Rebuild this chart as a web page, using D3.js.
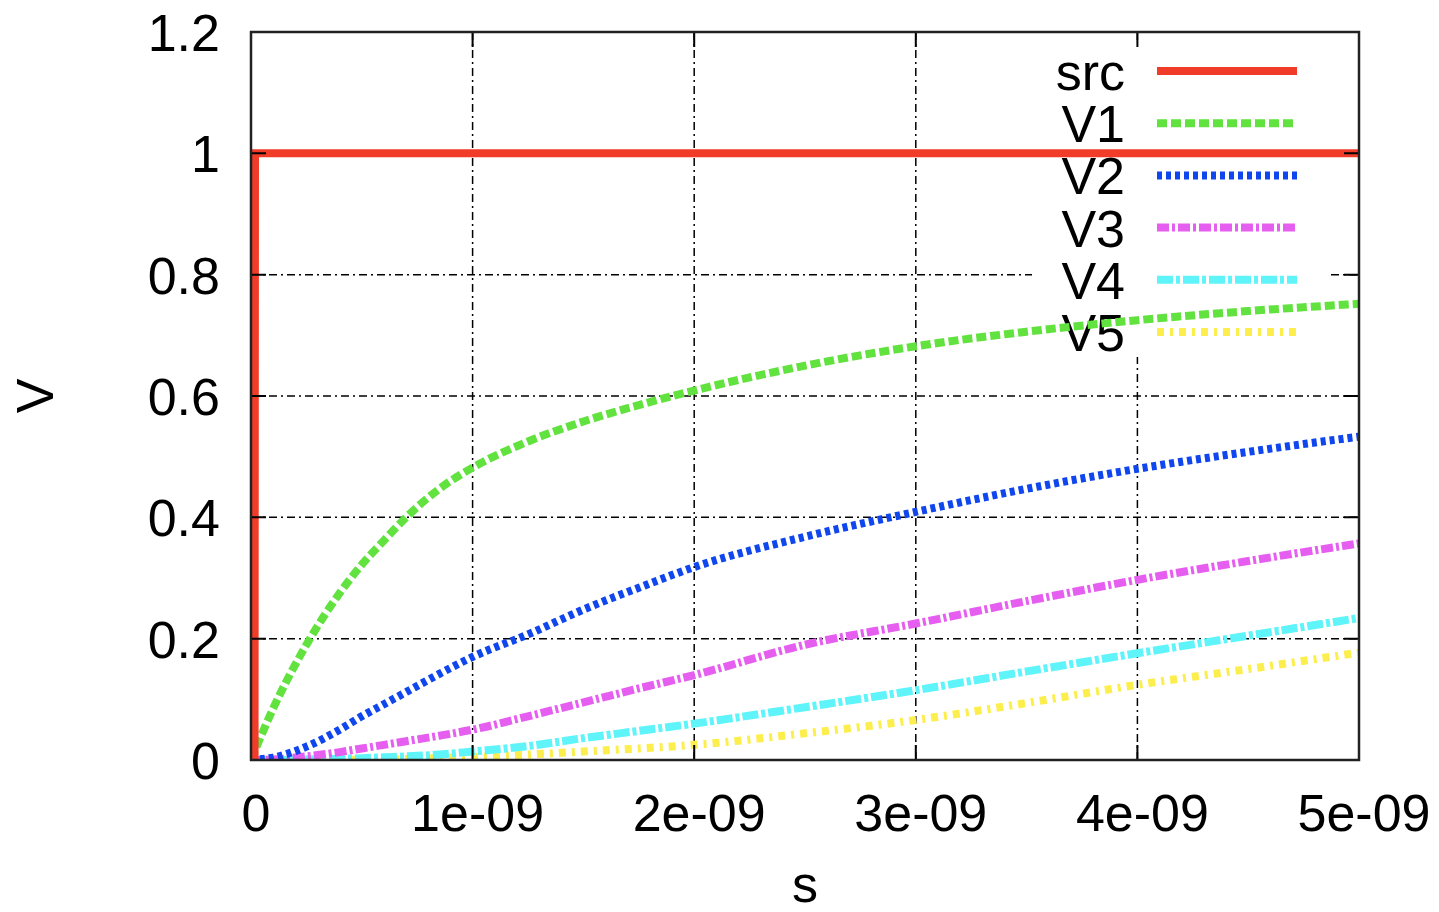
<!DOCTYPE html>
<html>
<head>
<meta charset="utf-8">
<script src="https://cdn.jsdelivr.net/npm/d3@7"></script>
<style>
    html, body { margin: 0; padding: 0; background: #fff; }
    svg text { font-family: "Liberation Sans", Arial, Helvetica, sans-serif; fill: #000; }
</style>
</head>
<body>
<div id="chart"></div>
<script>
// time samples in ns (converted to seconds below)
const timesNs = [0, 0.1, 0.25, 0.4, 0.5, 0.6, 0.7, 0.85, 1, 1.25, 1.5, 1.75, 2, 2.5, 3, 3.5, 4, 4.5, 5];

const srcTimesNs = [0, 0.016, 0.018, 5];
const srcValues = [0, 0, 1, 1];

const v1Values = [0, 0.085, 0.19, 0.275, 0.322, 0.362, 0.400, 0.447, 0.482, 0.525, 0.558, 0.585, 0.609, 0.650, 0.682, 0.706, 0.725, 0.740, 0.752];
const v2Values = [0, 0.004, 0.022, 0.050, 0.072, 0.092, 0.112, 0.142, 0.170, 0.207, 0.248, 0.284, 0.318, 0.368, 0.409, 0.447, 0.480, 0.508, 0.533];
const v3Values = [0, 0.001, 0.006, 0.013, 0.019, 0.025, 0.031, 0.040, 0.050, 0.072, 0.095, 0.118, 0.140, 0.190, 0.225, 0.262, 0.297, 0.328, 0.357];
const v4Values = [0, 0, 0.001, 0.002, 0.003, 0.0045, 0.006, 0.009, 0.014, 0.023, 0.036, 0.048, 0.060, 0.087, 0.115, 0.146, 0.176, 0.205, 0.234];
const v5Values = [0, 0, 0, 0, 0.0005, 0.001, 0.0015, 0.003, 0.005, 0.009, 0.014, 0.019, 0.025, 0.044, 0.066, 0.094, 0.124, 0.150, 0.177];

const seriesNames = ['src', 'V1', 'V2', 'V3', 'V4', 'V5'];
const seriesColors = ['#f03c28', '#62e23e', '#1046ee', '#e65ef0', '#5ef4fa', '#fcee4c'];
const seriesDashes = [null, '10,4', '5,4', '12,3,3,3', '16,3,4,3', '7,6,3,6'];

const xTicks = [0, 1e-9, 2e-9, 3e-9, 4e-9, 5e-9];
const xTickLabels = ['0', '1e-09', '2e-09', '3e-09', '4e-09', '5e-09'];
const yTicks = [0, 0.2, 0.4, 0.6, 0.8, 1, 1.2];
const yTickLabels = ['0', '0.2', '0.4', '0.6', '0.8', '1', '1.2'];

const width = 1439;
const height = 912;
const margin = {top: 32, right: 80, bottom: 152, left: 251};
const chartWidth = width - margin.left - margin.right;
const chartHeight = height - margin.top - margin.bottom;

const toPoints = (ts, vs) => ts.map((t, i) => ({t: t * 1e-9, v: vs[i]}));

const series = [
    toPoints(srcTimesNs, srcValues),
    toPoints(timesNs, v1Values),
    toPoints(timesNs, v2Values),
    toPoints(timesNs, v3Values),
    toPoints(timesNs, v4Values),
    toPoints(timesNs, v5Values)
].map((points, i) => ({
    name: seriesNames[i],
    color: seriesColors[i],
    dash: seriesDashes[i],
    points
}));

const xScale = d3.scaleLinear().domain([0, 5e-9]).range([0, chartWidth]);
const yScale = d3.scaleLinear().domain([0, 1.2]).range([chartHeight, 0]);

const svg = d3.select('#chart')
  .append('svg')
    .attr('width', width)
    .attr('height', height);

const container = svg.append('g')
    .attr('transform', `translate(${margin.left},${margin.top})`);

svg.append('defs')
  .append('clipPath')
    .attr('id', 'plot-clip')
  .append('rect')
    .attr('width', chartWidth)
    .attr('height', chartHeight);

// grid
const gridDash = '8,4,2,4';
const grid = container.append('g').classed('grid', true);
grid.selectAll('.grid-x')
    .data(xTicks.slice(1, -1))
  .enter().append('line')
    .attr('x1', d => xScale(d)).attr('x2', d => xScale(d))
    .attr('y1', 0).attr('y2', chartHeight)
    .attr('stroke', '#000').attr('stroke-width', 1.5)
    .attr('stroke-dasharray', gridDash);
grid.selectAll('.grid-y')
    .data(yTicks.slice(1, -1))
  .enter().append('line')
    .attr('x1', 0).attr('x2', chartWidth)
    .attr('y1', d => yScale(d)).attr('y2', d => yScale(d))
    .attr('stroke', '#000').attr('stroke-width', 1.5)
    .attr('stroke-dasharray', gridDash);

// legend (opaque box, hides the grid behind it)
const legendX = 1032 - margin.left;
const legendY = 42 - margin.top;
const legend = container.append('g').classed('legend', true);
legend.append('rect')
    .attr('x', legendX).attr('y', legendY)
    .attr('width', 295).attr('height', 315)
    .attr('fill', '#fff');

const rowY = i => 71 - margin.top + i * 52.2;
const entries = legend.selectAll('.entry')
    .data(series)
  .enter().append('g')
    .attr('transform', (d, i) => `translate(0,${rowY(i)})`);
entries.append('text')
    .attr('x', 1125 - margin.left)
    .attr('y', 19)
    .attr('text-anchor', 'end')
    .style('font-size', '52px')
    .text(d => d.name);
entries.append('line')
    .attr('x1', 1157 - margin.left).attr('x2', 1297 - margin.left)
    .attr('y1', 0).attr('y2', 0)
    .attr('stroke', d => d.color)
    .attr('stroke-width', 8)
    .attr('stroke-dasharray', d => d.dash);

// curves
const line = d3.line()
    .x(d => xScale(d.t))
    .y(d => yScale(d.v))
    .curve(d3.curveMonotoneX);

container.append('g')
    .attr('clip-path', 'url(#plot-clip)')
  .selectAll('.curve')
    .data(series.slice().reverse())
  .enter().append('path')
    .attr('d', d => d.name === 'src' ? line.curve(d3.curveLinear)(d.points) : line.curve(d3.curveMonotoneX)(d.points))
    .attr('fill', 'none')
    .attr('stroke', d => d.color)
    .attr('stroke-width', 8)
    .attr('stroke-dasharray', d => d.dash);

// border and mirrored ticks
const tickLen = 15;
const frame = container.append('g').classed('frame', true);
frame.selectAll('.xt')
    .data(xTicks)
  .enter().append('path')
    .attr('d', d => `M${xScale(d)},${chartHeight}v${-tickLen}M${xScale(d)},0v${tickLen}`)
    .attr('stroke', '#000').attr('stroke-width', 2);
frame.selectAll('.yt')
    .data(yTicks)
  .enter().append('path')
    .attr('d', d => `M0,${yScale(d)}h${tickLen}M${chartWidth},${yScale(d)}h${-tickLen}`)
    .attr('stroke', '#000').attr('stroke-width', 2);
frame.append('rect')
    .attr('width', chartWidth).attr('height', chartHeight)
    .attr('fill', 'none')
    .attr('stroke', '#222').attr('stroke-width', 2.5);

// tick labels
container.selectAll('.xlabel')
    .data(xTicks)
  .enter().append('text')
    .attr('x', d => xScale(d) + 5)
    .attr('y', 831 - margin.top)
    .attr('text-anchor', 'middle')
    .style('font-size', '52px')
    .text((d, i) => xTickLabels[i]);
container.selectAll('.ylabel')
    .data(yTicks)
  .enter().append('text')
    .attr('x', 220 - margin.left)
    .attr('y', d => yScale(d) + 19)
    .attr('text-anchor', 'end')
    .style('font-size', '52px')
    .text((d, i) => yTickLabels[i]);

// axis titles
svg.append('text')
    .attr('x', 805).attr('y', 902)
    .attr('text-anchor', 'middle')
    .style('font-size', '52px')
    .text('s');
svg.append('text')
    .attr('transform', 'translate(53,396) rotate(-90)')
    .attr('text-anchor', 'middle')
    .style('font-size', '52px')
    .text('V');
</script>
</body>
</html>
